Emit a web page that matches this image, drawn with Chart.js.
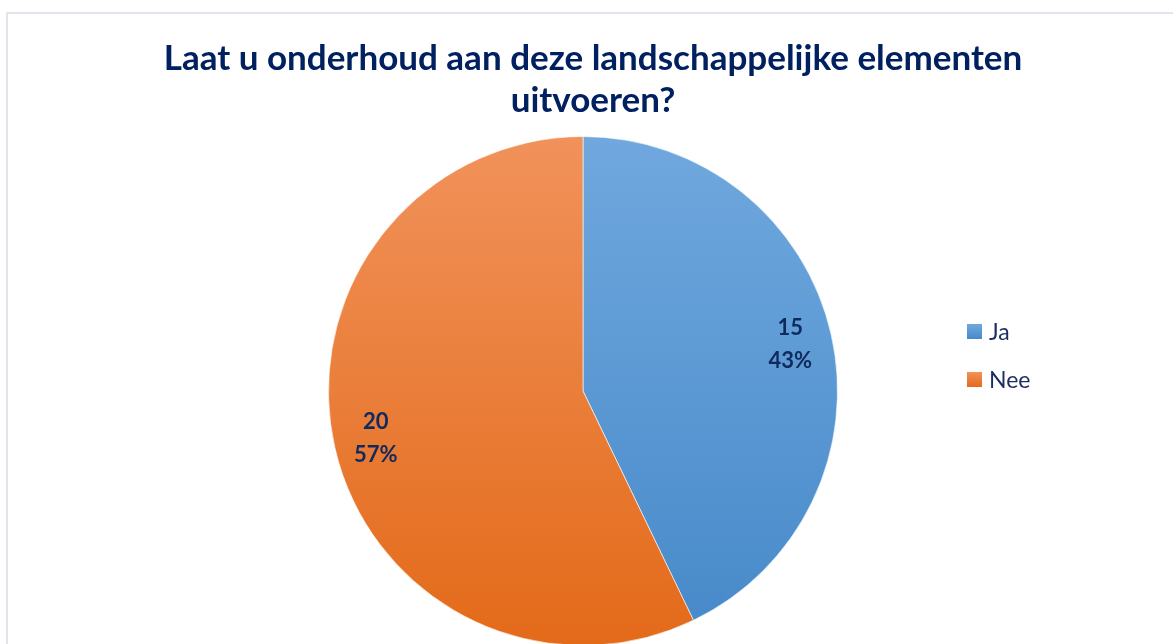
<!DOCTYPE html>
<html>
<head>
<meta charset="utf-8">
<script src="https://cdn.jsdelivr.net/npm/chart.js@4"></script>
<style>
  html, body { margin: 0; padding: 0; width: 1173px; height: 644px; overflow: hidden; background: #fff; }
  #frame { position: absolute; left: 6px; top: 12px; width: 1200px; height: 700px; border: 2px solid #e0e5eb; }
  #chart { position: absolute; left: 0; top: 0; }
  #title { position: absolute; left: 0; top: 35px; width: 1186px; text-align: center;
           font-family: Lato, "Open Sans", sans-serif; font-weight: bold; font-size: 35px; line-height: 42px; color: #002060; }
  .leg { position: absolute; left: 967px; display: flex; align-items: center;
         font-family: Lato, sans-serif; font-size: 23px; line-height: 23px; color: #1c2e5e; }
  .leg span.box { width: 15px; height: 15px; margin-right: 7px; }
</style>
</head>
<body>
<div id="frame"></div>
<canvas id="chart" width="1173" height="700"></canvas>
<div id="title">Laat u onderhoud aan deze landschappelijke elementen<br>uitvoeren?</div>
<div id="legend"></div>
<script>
// PIE DATA
const answers = ["Ja", "Nee"];
const counts = [15, 20];

// colours: top / bottom of the gradient
const topColors = ["#70a8de", "#f1925b"];
const bottomColors = ["#4689c9", "#e36a19"];

const total = counts.reduce(function(a, b) { return a + b; }, 0);

fillGradient = function(ctx)
{
    var area = ctx.chart.chartArea;
    var i = ctx.dataIndex;
    if (!area) return topColors[i];
    var g = ctx.chart.ctx.createLinearGradient(0, area.top, 0, area.bottom);
    g.addColorStop(0, topColors[i]);
    g.addColorStop(1, bottomColors[i]);
    return g;
};

// labels inside the slices (count + percent)
const sliceLabels = {
    id: "sliceLabels",
    afterDatasetsDraw: function(chart)
    {
        var c = chart.ctx;
        chart.getDatasetMeta(0).data.forEach(function(arc, i) {
            var p = arc.getProps(["x", "y", "startAngle", "endAngle", "outerRadius"], true);
            var mid = (p.startAngle + p.endAngle) / 2;
            var r = p.outerRadius * 0.835;
            var x = p.x + Math.cos(mid) * r;
            var y = p.y + Math.sin(mid) * r;
            c.save();
            c.fillStyle = "#0f2a5c";
            c.font = "bold 22px Lato, sans-serif";
            c.textAlign = "center";
            c.textBaseline = "middle";
            c.fillText(String(counts[i]), x, y - 16);
            c.fillText(Math.round(counts[i] / total * 100) + "%", x, y + 17);
            c.restore();
        });
    }
};

new Chart("chart", {
    type: "pie",
    data: {
        labels: answers,
        datasets: [
            {
                data: counts,
                backgroundColor: fillGradient,
                borderColor: "rgba(255,255,255,0.6)",
                borderWidth: 1
            }
        ]
    },
    options: {
        responsive: false,
        animation: false,
        layout: { padding: { left: 328, right: 335, top: 136, bottom: 54 } },
        plugins: {
            legend: { display: false },
            tooltip: { enabled: false }
        }
    },
    plugins: [sliceLabels]
});

// LEGEND
var legendTops = [320, 368];
answers.forEach(function(name, i) {
    var item = document.createElement("div");
    item.className = "leg";
    item.style.top = legendTops[i] + "px";
    item.innerHTML = '<span class="box" style="background:linear-gradient(' + topColors[i] + ',' + bottomColors[i] + ')"></span>' + name;
    document.getElementById("legend").appendChild(item);
});
</script>
</body>
</html>
